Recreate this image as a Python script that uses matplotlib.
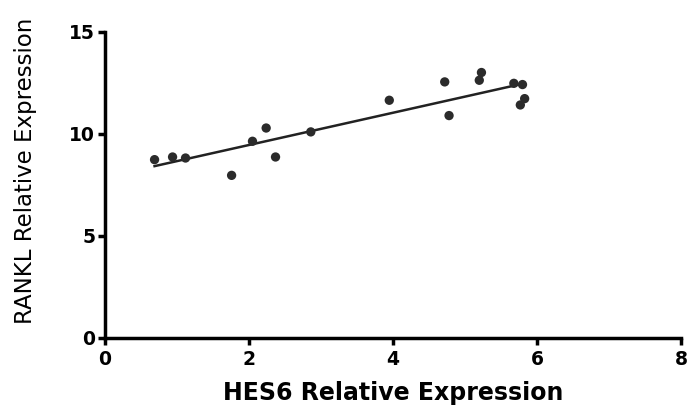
import numpy as np
import matplotlib
matplotlib.use("Agg")
import matplotlib.pyplot as plt

hes6 = [0.69, 0.94, 1.12, 1.76, 2.05, 2.24, 2.37, 2.86, 3.95, 4.72, 4.78, 5.20, 5.23, 5.68, 5.80, 5.83, 5.77]
rankl = [8.74, 8.87, 8.82, 7.97, 9.64, 10.29, 8.87, 10.10, 11.65, 12.55, 10.90, 12.63, 13.01, 12.48, 12.42, 11.73, 11.42]
x_ticks = [0, 2, 4, 6, 8]
y_ticks = [0, 5, 10, 15]

plt.rcParams['font.family'] = ['DejaVu Sans']

fig = plt.figure(figsize=(6.9, 4.09), dpi=100)
ax = fig.add_axes([0.152, 0.1736, 0.8348, 0.7484])

x = np.array(hes6)
y = np.array(rankl)
slope, intercept = np.polyfit(x, y, 1)
xs = np.array([x.min(), x.max()])
ax.plot(xs, slope * xs + intercept, color='#222222', lw=1.8, zorder=2)
ax.scatter(x, y, s=45, color='#2b2b2b', zorder=3, edgecolors='none')

ax.set_xlim(0, 8)
ax.set_ylim(0, 15)
ax.set_xticks(x_ticks)
ax.set_yticks(y_ticks)
for s in ['top', 'right']:
    ax.spines[s].set_visible(False)
for s in ['left', 'bottom']:
    ax.spines[s].set_linewidth(2.5)
ax.tick_params(width=2.5, length=5, labelsize=13.5, pad=2)
ax.tick_params(axis='x', pad=3.5)
for lab in ax.get_xticklabels() + ax.get_yticklabels():
    lab.set_fontweight('bold')

ax.set_xlabel('HES6 Relative Expression', fontsize=17, fontweight='bold', labelpad=9)
ax.set_ylabel('RANKL Relative Expression', fontsize=16.5)
ax.yaxis.set_label_coords(-0.117, 0.546)

fig.savefig('out.png', dpi=100)
